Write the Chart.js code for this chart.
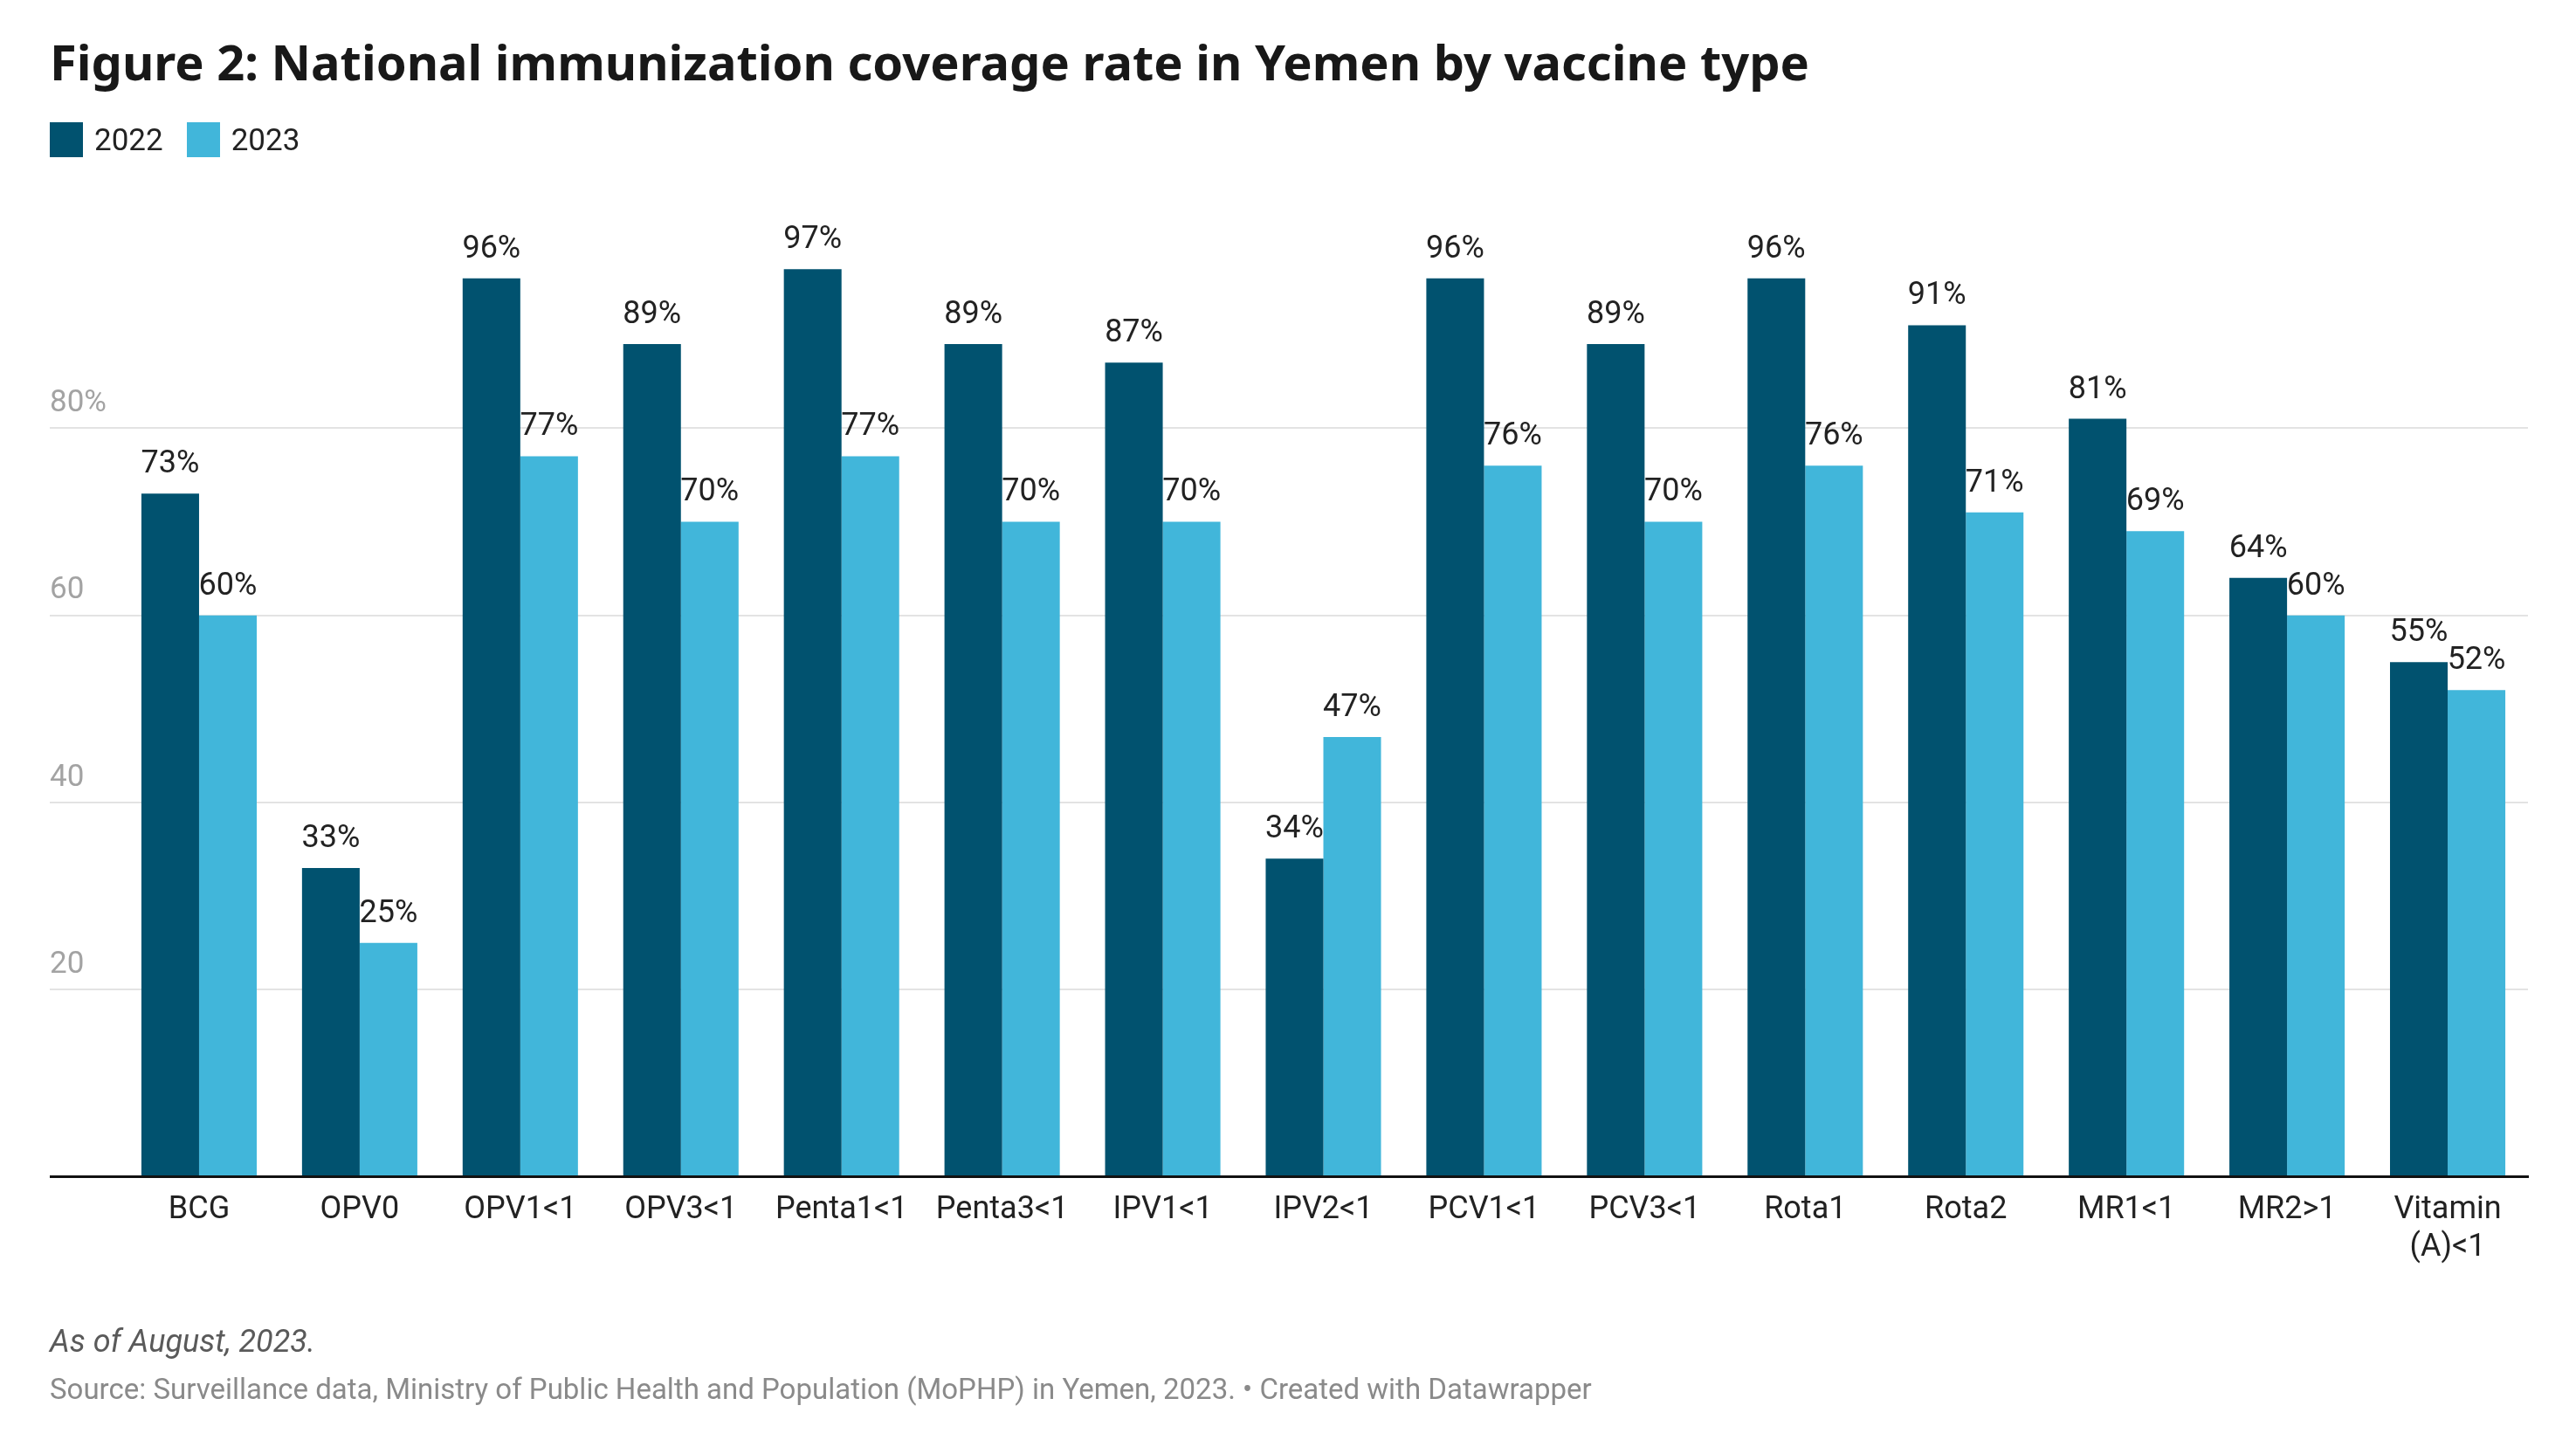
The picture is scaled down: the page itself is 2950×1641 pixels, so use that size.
<!DOCTYPE html>
<html>
<head>
<meta charset="utf-8">
<script src="https://cdn.jsdelivr.net/npm/chart.js"></script>
<style>
  html, body { margin: 0; padding: 0; background: #fff; }
  body { width: 2950px; height: 1641px; position: relative; overflow: hidden; font-family: Roboto, "Noto Sans", sans-serif; }
  #chart { position: absolute; left: 0; top: 0; }
  .title { position: absolute; left: 57px; top: 38px; line-height: 64px; font-family: "Noto Sans", "Open Sans", sans-serif; font-size: 56px; font-weight: 700; color: #181818; white-space: nowrap; }
  .legend { position: absolute; left: 57px; top: 140px; height: 40px; display: flex; align-items: center; font-size: 35px; color: #222; }
  .legend .item { display: flex; align-items: center; margin-right: 27px; }
  .legend .sw { width: 38px; height: 40px; margin-right: 13px; }
  .note { position: absolute; left: 57px; top: 1515px; font-size: 36px; line-height: 42px; font-style: italic; color: #5a5a5a; white-space: nowrap; }
  .source { position: absolute; left: 57px; top: 1572px; font-size: 33px; line-height: 38px; color: #8a8a8a; white-space: nowrap; }
</style>
</head>
<body>
<canvas id="chart" width="2950" height="1641"></canvas>
<div class="title">Figure 2: National immunization coverage rate in Yemen by vaccine type</div>
<div class="legend" id="legend"></div>
<div class="note">As of August, 2023.</div>
<div class="source">Source: Surveillance data, Ministry of Public Health and Population (MoPHP) in Yemen, 2023. • Created with Datawrapper</div>
<script>
const categories = ['BCG', 'OPV0', 'OPV1<1', 'OPV3<1', 'Penta1<1', 'Penta3<1', 'IPV1<1', 'IPV2<1', 'PCV1<1', 'PCV3<1', 'Rota1', 'Rota2', 'MR1<1', 'MR2>1', ['Vitamin', '(A)<1']];
const values2022 = [73, 33, 96, 89, 97, 89, 87, 34, 96, 89, 96, 91, 81, 64, 55];
const values2023 = [60, 25, 77, 70, 77, 70, 70, 47, 76, 70, 76, 71, 69, 60, 52];
const seriesNames = ['2022', '2023'];
const seriesColors = ['#01526f', '#41b6da'];
const yTickValues = [0, 20, 40, 60, 80];
const yTickLabels = ['', '20', '40', '60', '80%'];

// HTML legend
const legendEl = document.getElementById('legend');
seriesNames.forEach((n, i) => {
  const it = document.createElement('div');
  it.className = 'item';
  const sw = document.createElement('div');
  sw.className = 'sw';
  sw.style.background = seriesColors[i];
  const tx = document.createElement('span');
  tx.textContent = n;
  it.appendChild(sw); it.appendChild(tx);
  legendEl.appendChild(it);
});

const valueLabels = {
  id: 'valueLabels',
  afterDatasetsDraw(chart) {
    const ctx = chart.ctx;
    ctx.save();
    ctx.font = '36px Roboto, "Noto Sans", sans-serif';
    ctx.fillStyle = '#222';
    ctx.textAlign = 'center';
    ctx.textBaseline = 'alphabetic';
    chart.data.datasets.forEach((ds, di) => {
      const meta = chart.getDatasetMeta(di);
      meta.data.forEach((bar, i) => {
        ctx.fillText(ds.data[i] + '%', bar.x, bar.y - 24);
      });
    });
    ctx.restore();
  }
};

new Chart(document.getElementById('chart'), {
  type: 'bar',
  data: {
    labels: categories,
    datasets: [
      { label: seriesNames[0], data: values2022, backgroundColor: seriesColors[0], borderWidth: 0 },
      { label: seriesNames[1], data: values2023, backgroundColor: seriesColors[1], borderWidth: 0 }
    ]
  },
  options: {
    responsive: false,
    devicePixelRatio: 1,
    animation: false,
    layout: { padding: { left: 57, right: 55, top: 276, bottom: 173 } },
    plugins: { legend: { display: false }, tooltip: { enabled: false } },
    datasets: { bar: { categoryPercentage: 0.718, barPercentage: 1.0 } },
    scales: {
      x: {
        z: 1,
        grid: { display: false, drawTicks: false },
        border: { display: true, color: '#111', width: 3 },
        ticks: { color: '#222', font: { family: 'Roboto', size: 36 }, padding: 17, maxRotation: 0, autoSkip: false }
      },
      y: {
        min: 0,
        max: 100,
        afterBuildTicks: (scale) => { scale.ticks = yTickValues.map(v => ({ value: v })); },
        afterFit: (scale) => { scale.width = 79; },
        border: { display: false },
        grid: {
          color: (c) => (c.tick && c.tick.value === 0) ? '#111' : '#e3e3e3',
          lineWidth: (c) => (c.tick && c.tick.value === 0) ? 3 : 2,
          drawTicks: true,
          tickLength: 79
        },
        ticks: {
          color: '#a3a3a3',
          font: { family: 'Roboto', size: 35 },
          crossAlign: 'far',
          padding: 0,
          labelOffset: -28,
          callback: (v) => { const k = yTickValues.indexOf(v); return k >= 0 ? yTickLabels[k] : ''; }
        }
      }
    }
  },
  plugins: [valueLabels]
});
</script>
</body>
</html>
